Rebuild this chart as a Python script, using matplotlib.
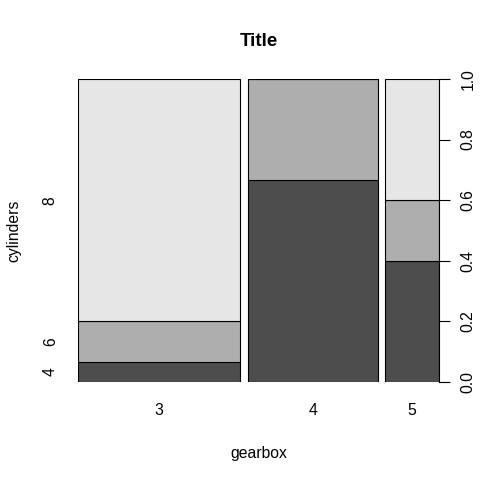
import numpy as np
import matplotlib
matplotlib.use("Agg")
import matplotlib.pyplot as plt

# mtcars: counts of cylinders within each gearbox level
gears = ["3", "4", "5"]
cylinders = ["4", "6", "8"]
counts_cyl4 = [1, 8, 2]
counts_cyl6 = [2, 4, 1]
counts_cyl8 = [12, 0, 2]
colors = ["#4D4D4D", "#AEAEAE", "#E6E6E6"]

counts = np.array([counts_cyl4, counts_cyl6, counts_cyl8], dtype=float)
totals = counts.sum(axis=0)
props = counts / totals
off = 0.02
widths = totals / totals.sum() * (1 - off * (len(gears) - 1))
lefts = np.concatenate([[0], np.cumsum(widths + off)[:-1]])

plt.rcParams['font.family'] = ['Liberation Sans', 'DejaVu Sans']
fs = 11.3
fig = plt.figure(figsize=(4.8, 4.8), dpi=100)
ax = fig.add_axes([78 / 480, 1 - 382 / 480, 361 / 480, 303 / 480])

bottoms = np.zeros(len(gears))
for i in range(len(cylinders)):
    ax.bar(lefts, props[i], width=widths, bottom=bottoms, align="edge",
           color=colors[i], edgecolor="black", linewidth=0.8)
    bottoms += props[i]

ax.set_xlim(0, 1)
ax.set_ylim(0, 1)
for s in ax.spines.values():
    s.set_visible(False)

ax.set_xticks(lefts + widths / 2)
ax.set_xticklabels(gears, fontsize=fs)
ax.tick_params(axis="x", length=0, pad=15)

# left labels at middle of the first bar's segments
first = props[:, 0]
mids = np.cumsum(first) - first / 2
ax.set_yticks(mids)
ax.set_yticklabels(cylinders, fontsize=fs, rotation=90, va="center")
ax.tick_params(axis="y", length=0, pad=14.5)

ax2 = ax.twinx()
ax2.set_ylim(0, 1)
for s in ax2.spines.values():
    s.set_visible(False)
ax2.set_yticks(np.arange(0, 1.01, 0.2))
ax2.set_yticklabels(["%.1f" % v for v in np.arange(0, 1.01, 0.2)],
                    fontsize=fs, rotation=90, va="center")
ax2.tick_params(axis="y", length=8, width=0.8, pad=7.5)
ax2.plot([1, 1], [0, 1], color="black", lw=0.8, clip_on=False,
         transform=ax2.transAxes)

ax.set_xlabel("gearbox", fontsize=fs, labelpad=20.5)
ax.set_ylabel("cylinders", fontsize=fs, labelpad=15.5)
ax.set_title("Title", fontsize=13.5, fontweight="bold", pad=24)

fig.savefig("out.png", dpi=100)
